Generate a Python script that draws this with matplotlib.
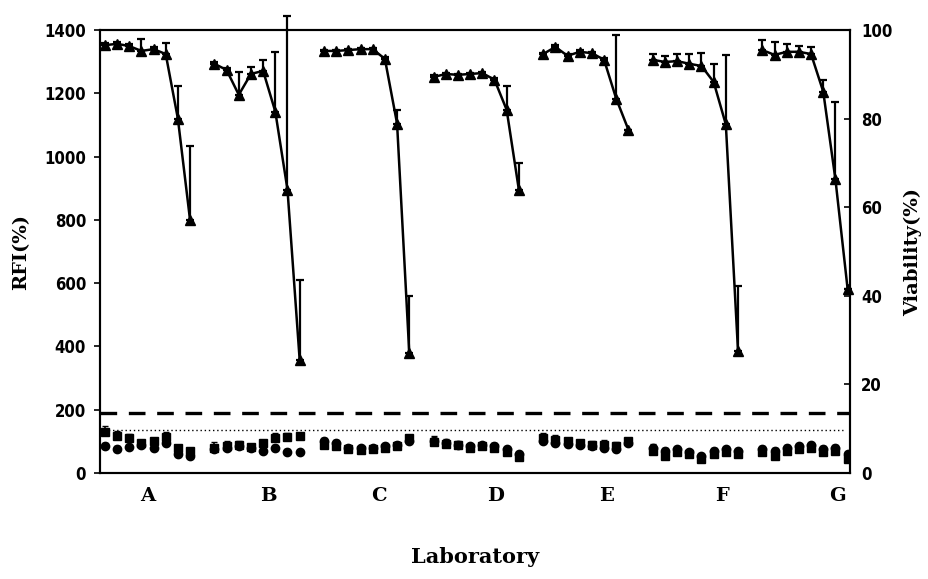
#!/usr/bin/env python3
"""
RFI and viability per laboratory (A-G), twin y axes.
"""

import numpy as np
import matplotlib.pyplot as plt

# ============================================================================
# DATA
# ============================================================================

labs = ['A', 'B', 'C', 'D', 'E', 'F', 'G']
n_points = 8

# Viability (%) - triangles, right axis
via_A = [96.6, 96.9, 96.4, 95.3, 95.7, 94.6, 80.0, 57.1]
via_B = [92.4, 91.0, 85.4, 90.1, 90.8, 81.6, 64.0, 25.6]
via_C = [95.3, 95.3, 95.5, 95.7, 95.7, 93.5, 78.9, 27.2]
via_D = [89.4, 90.1, 89.9, 90.1, 90.3, 88.8, 82.0, 64.0]
via_E = [94.6, 96.2, 94.2, 95.1, 94.8, 93.3, 84.5, 77.5]
via_F = [93.3, 92.8, 93.0, 92.4, 91.9, 88.3, 78.7, 27.6]
via_G = [95.5, 94.4, 95.1, 95.1, 94.6, 86.1, 66.3, 41.6]

# upper error (viability units)
via_err_A = [0.6, 0.4, 0.5, 2.7, 0.5, 2.5, 7.4, 16.8]
via_err_B = [0.4, 0.4, 5.2, 1.6, 2.5, 13.5, 39.1, 18.0]
via_err_C = [0.3, 0.3, 0.3, 0.3, 0.3, 0.5, 3.1, 12.8]
via_err_D = [0.5, 0.3, 0.3, 0.3, 0.3, 0.5, 5.4, 5.9]
via_err_E = [0.3, 0.4, 0.3, 0.3, 0.3, 0.5, 14.4, 0.0]
via_err_F = [1.3, 1.4, 1.6, 2.2, 2.9, 4.1, 15.7, 14.6]
via_err_G = [2.3, 2.9, 1.8, 1.3, 1.6, 2.7, 17.5, 0.0]

# RFI (%) - circles and squares, left axis
rfi_ci_A = [85, 75, 82, 90, 78, 95, 60, 55]
rfi_sq_A = [130, 118, 110, 95, 100, 115, 78, 70]
rfi_ci_B = [75, 80, 85, 78, 70, 80, 68, 65]
rfi_sq_B = [80, 85, 90, 82, 95, 110, 115, 118]
rfi_ci_C = [100, 95, 80, 78, 80, 85, 90, 100]
rfi_sq_C = [90, 85, 75, 72, 75, 78, 85, 110]
rfi_ci_D = [100, 95, 90, 85, 90, 85, 75, 60]
rfi_sq_D = [98, 92, 88, 80, 85, 80, 65, 50]
rfi_ci_E = [100, 95, 92, 90, 85, 80, 75, 95]
rfi_sq_E = [110, 105, 100, 95, 90, 88, 85, 100]
rfi_ci_F = [80, 70, 75, 65, 55, 70, 75, 70]
rfi_sq_F = [70, 55, 65, 60, 45, 60, 65, 60]
rfi_ci_G = [75, 70, 80, 85, 90, 75, 80, 60]
rfi_sq_G = [65, 55, 70, 75, 80, 65, 70, 45]

rfi_err = [18, 15, 12, 10, 10, 15, 12, 10]

RFI_DASHED = 190
RFI_DOTTED = 135

# ============================================================================

via = [via_A, via_B, via_C, via_D, via_E, via_F, via_G]
via_err = [via_err_A, via_err_B, via_err_C, via_err_D, via_err_E, via_err_F, via_err_G]
rfi_ci = [rfi_ci_A, rfi_ci_B, rfi_ci_C, rfi_ci_D, rfi_ci_E, rfi_ci_F, rfi_ci_G]
rfi_sq = [rfi_sq_A, rfi_sq_B, rfi_sq_C, rfi_sq_D, rfi_sq_E, rfi_sq_F, rfi_sq_G]

serif_bold = dict(family='DejaVu Serif', fontweight='bold')

fig = plt.figure(figsize=(9.29, 5.79), dpi=100)
ax = fig.add_axes([0.1076, 0.183, 0.8074, 0.765])
ax2 = ax.twinx()

for k in range(len(labs)):
    x = np.arange(n_points) + 9 * k

    # RFI markers
    ax.errorbar(x, rfi_sq[k], yerr=[np.zeros(n_points), rfi_err], fmt='s',
                color='k', ms=6, capsize=2.5, elinewidth=1.2, lw=0)
    ax.errorbar(x, rfi_ci[k], yerr=[np.zeros(n_points), np.array(rfi_err) * 0.6],
                fmt='o', color='k', ms=6, capsize=2.5, elinewidth=1.2, lw=0)

    # Viability line
    ax2.errorbar(x, via[k], yerr=[np.zeros(n_points), via_err[k]], fmt='-^',
                 color='k', ms=7, lw=1.8, capsize=3, elinewidth=1.6,
                 capthick=1.6, clip_on=False)

ax.axhline(RFI_DASHED, color='k', lw=2.4, ls=(0, (5, 3.5)))
ax.plot([-0.4, 60.6], [RFI_DOTTED, RFI_DOTTED], color='k', lw=1, ls=(0, (1, 2)))

xmax = 9 * (len(labs) - 1) + n_points - 1
ax.set_xlim(-0.4, xmax + 0.2)
ax.set_ylim(0, 1400)
ax2.set_ylim(0, 100)

ax.set_yticks(np.arange(0, 1401, 200))
ax2.set_yticks(np.arange(0, 101, 20))

tick_pos = [3.5, 13.4, 22.5, 32.1, 41.2, 50.7, 60.2]
ax.set_xticks(tick_pos)
ax.set_xticklabels(labs, fontsize=14, **serif_bold)
ax.tick_params(axis='x', length=0, pad=10)
ax.tick_params(axis='y', direction='out', length=4, width=1.2, pad=6)
ax2.tick_params(axis='y', direction='in', length=4, width=1.2, pad=8)

for lab in ax.get_yticklabels() + ax2.get_yticklabels():
    lab.set_fontweight('bold')
    lab.set_fontsize(12)
    lab.set_fontstretch('condensed')

ax.set_ylabel('RFI(%)', fontsize=14, labelpad=10, **serif_bold)
ax2.set_ylabel('Viability(%)', fontsize=14, labelpad=8, **serif_bold)
ax.set_xlabel('Laboratory', fontsize=15, labelpad=30, **serif_bold)

for a in (ax, ax2):
    for s in a.spines.values():
        s.set_linewidth(1.5)

fig.savefig('out.png', dpi=100)
